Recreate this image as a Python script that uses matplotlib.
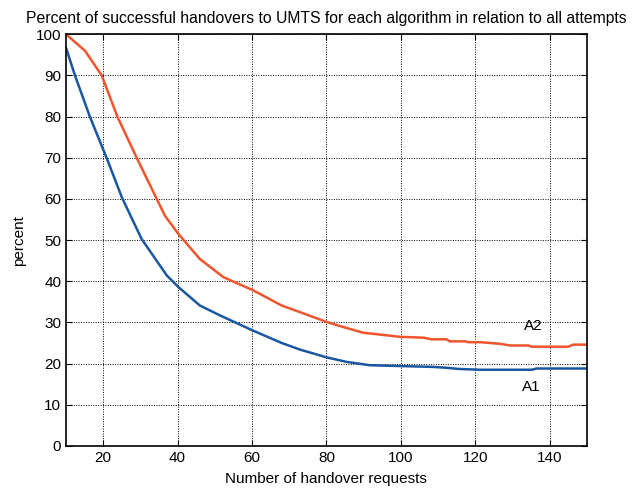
import numpy as np
import matplotlib.pyplot as plt

# handover success rate vs. number of requests
a1_x = [10, 12.4, 16.4, 20.9, 25, 30.3, 37.1, 40.2, 46, 51.4, 60.3, 68, 72.9, 80.1, 85.5,
        91.7, 99.8, 108.5, 112, 115.5, 121.3, 135.2, 136.5, 150]
a1_y = [96.7, 90, 80, 70, 60.4, 50.3, 41.4, 38.6, 34.1, 31.7, 28.0, 25.0, 23.4, 21.5, 20.4,
        19.6, 19.4, 19.2, 19.0, 18.7, 18.5, 18.5, 18.8, 18.8]

a2_x = [10, 15.1, 19.6, 23.8, 29, 36.6, 40.2, 46, 52.3, 60.3, 68, 72.9, 80.1, 83.7, 89.9,
        99.8, 106, 108.3, 112.3, 113.2, 117.3, 118.1, 121.3, 126.7, 129.4, 134.3, 135.2,
        145, 146.4, 150]
a2_y = [100, 96, 90, 80, 70, 55.9, 51.5, 45.4, 41, 37.8, 34.1, 32.5, 30.1, 29.1, 27.5,
        26.5, 26.3, 25.9, 25.9, 25.4, 25.4, 25.2, 25.2, 24.8, 24.4, 24.4, 24.1,
        24.1, 24.6, 24.6]

xticks = [20, 40, 60, 80, 100, 120, 140]
yticks = list(range(0, 101, 10))

plt.rcParams.update({
    "font.family": ["Liberation Sans", "DejaVu Sans"],
    "font.size": 11,
    "xtick.direction": "in",
    "ytick.direction": "in",
    "xtick.top": True,
    "ytick.right": True,
})

fig = plt.figure(figsize=(6.35, 4.9), dpi=100)
ax = fig.add_axes([0.104, 0.09, 0.82, 0.84])

ax.plot(a1_x, a1_y, color="#1a57a3", lw=1.8)
ax.plot(a2_x, a2_y, color="#f0552e", lw=1.8)

ax.text(135.6, 29.1, "A2", ha="center", va="center", fontsize=11)
ax.text(135.2, 14.2, "A1", ha="center", va="center", fontsize=11)

ax.set_xlim(10, 150)
ax.set_ylim(0, 100)
ax.set_xticks(xticks)
ax.set_yticks(yticks)
ax.tick_params(labelsize=11, length=4, width=0.8)
ax.grid(True, color="black", linestyle=(0, (1, 1.5)), linewidth=0.7)
for sp in ax.spines.values():
    sp.set_linewidth(1.2)

ax.set_xlabel("Number of handover requests", fontsize=11, labelpad=5)
ax.set_ylabel("percent", fontsize=11, labelpad=7)
ax.set_title("Percent of successful handovers to UMTS for each algorithm in relation to all attempts",
             fontsize=11.3, pad=8)

fig.savefig("out.png", dpi=100)
